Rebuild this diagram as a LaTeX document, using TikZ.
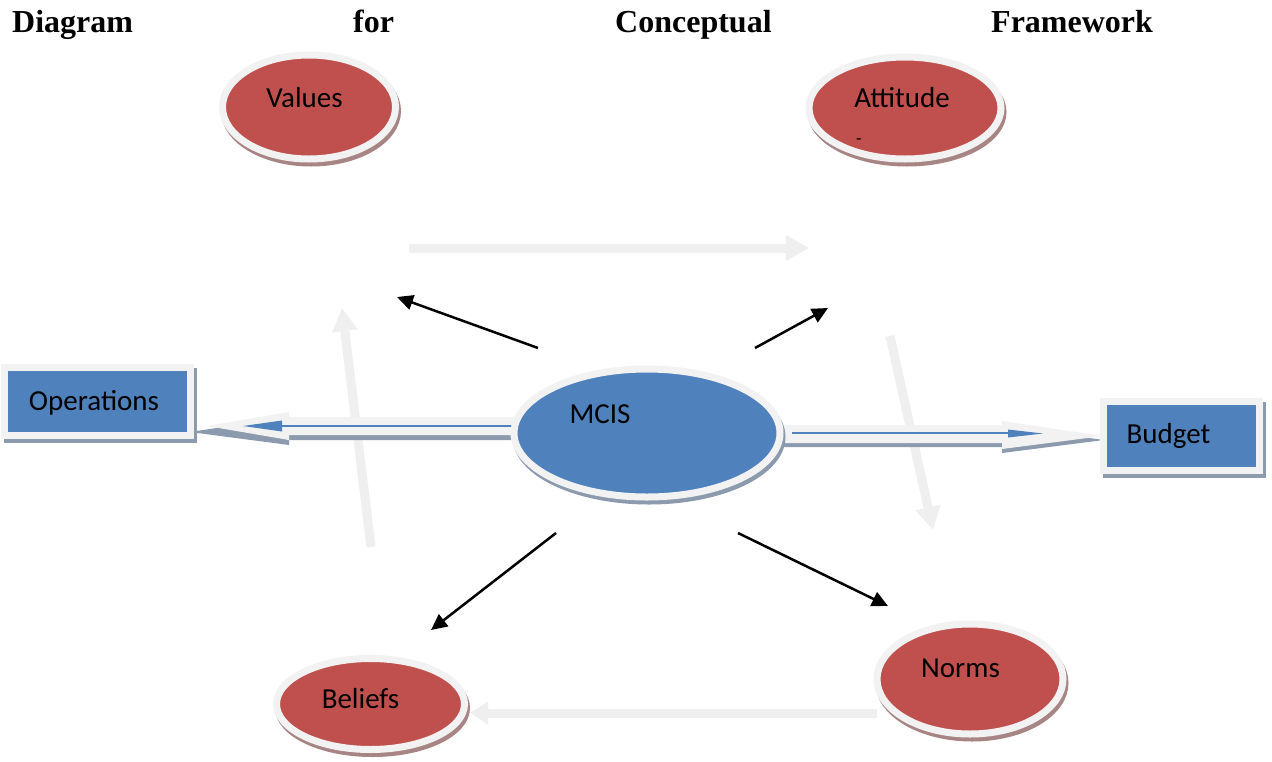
\documentclass[tikz,border=0pt]{standalone}
\usepackage{fontspec}
\setmainfont{Liberation Serif}
\newfontfamily\calfont{Carlito}
\usetikzlibrary{shapes.geometric,arrows.meta}
\definecolor{redfill}{HTML}{C0504D}
\definecolor{bluefill}{HTML}{4F81BD}
\definecolor{ringcol}{HTML}{F2F2F2}
\definecolor{redshadow}{HTML}{A88585}
\definecolor{blueshadow}{HTML}{8C9AAE}
\definecolor{faintcol}{HTML}{EFEFEF}
\tikzset{
  redell/.style={ellipse, inner sep=0pt, fill=redfill, draw=ringcol, line width=7pt,
    preaction={draw=redshadow, fill=redshadow, line width=7pt, transform canvas={xshift=2pt,yshift=-4pt}}},
  blueell/.style={ellipse, inner sep=0pt, fill=bluefill, draw=ringcol, line width=7pt,
    preaction={draw=blueshadow, fill=blueshadow, line width=7pt, transform canvas={xshift=2pt,yshift=-4pt}}},
  bluebox/.style={rectangle, inner sep=0pt, fill=bluefill, draw=ringcol, line width=7pt,
    preaction={draw=blueshadow, fill=blueshadow, line width=7pt, transform canvas={xshift=3pt,yshift=-4pt}}},
  lbl/.style={anchor=base, inner sep=0pt, font=\calfont\fontsize{29}{35}\selectfont, text=black},
  ttl/.style={anchor=base west, inner sep=0pt, font=\bfseries\fontsize{32}{38}\selectfont},
  faintarrow/.style={draw=faintcol, line width=9pt, -{Triangle[length=23pt,width=24pt]}},
  blackarrow/.style={draw=black, line width=2.5pt, -{Triangle[length=16pt,width=15pt]}},
  bluethin/.style={draw=bluefill, line width=1.5pt},
}
\begin{document}
\begin{tikzpicture}[x=1pt,y=-1pt]
\useasboundingbox[fill=white] (0,0) rectangle (1272,761);

% title
\node[ttl] (t1) at (12,32) {Diagram};
\node[ttl] (t2) at (353,32) {for};
\node[ttl] (t3) at (615,32) {Conceptual};
\node[ttl] (t4) at (991,32) {Framework};

% faint cycle arrows
\coordinate (fa1s) at (409,248); \coordinate (fa1e) at (809,248);
\coordinate (fa2s) at (371,547); \coordinate (fa2e) at (342,308);
\coordinate (fa3s) at (890,336); \coordinate (fa3e) at (933,530);
\coordinate (fa4s) at (877,713); \coordinate (fa4e) at (470,713);
\draw[faintarrow] (fa1s) -- (fa1e);
\draw[faintarrow] (fa2s) -- (fa2e);
\draw[faintarrow] (fa3s) -- (fa3e);
\draw[faintarrow, -{Triangle[length=18pt,width=22pt]}] (fa4s) -- (fa4e);

% block arrow MCIS -> Operations
\coordinate (opsTail) at (522,426); \coordinate (opsTip) at (207,426);
\fill[blueshadow] (522,422) -- (289,422) -- (289,417) -- (190,432) -- (289,445) -- (289,440) -- (522,440) -- cycle;
\fill[ringcol] (opsTail |- 0,417) -- (289,417) -- (289,412) -- (opsTip) -- (289,440) -- (289,435) -- (opsTail |- 0,435) -- cycle;
\coordinate (opsBlueTail) at (518,426); \coordinate (opsBlueBase) at (282,426); \coordinate (opsBlueTip) at (243,426);
\draw[bluethin] (opsBlueTail) -- (opsBlueBase);
\fill[bluefill] (282,420.5) -- (opsBlueTip) -- (282,431.5) -- cycle;

% block arrow MCIS -> Budget
\coordinate (budTail) at (780,434); \coordinate (budTip) at (1103,436);
\fill[blueshadow] (780,430) -- (1002,430) -- (1002,426) -- (1104,440) -- (1002,453) -- (1002,447) -- (780,447) -- cycle;
\fill[ringcol] (budTail |- 0,425) -- (1002,425) -- (1002,421) -- (budTip) -- (1002,449) -- (1002,443) -- (budTail |- 0,443) -- cycle;
\coordinate (budBlueTail) at (792,433); \coordinate (budBlueBase) at (1008,433); \coordinate (budBlueTip) at (1043,433.5);
\draw[bluethin] (budBlueTail) -- (budBlueBase);
\fill[bluefill] (1008,429.5) -- (budBlueTip) -- (1008,437.5) -- cycle;

% boxes
\node[bluebox, minimum width=186pt, minimum height=68pt] (ops) at (97.5,401.5) {};
\node[bluebox, minimum width=156pt, minimum height=69pt] (budget) at (1181.5,436) {};
\node[lbl] (opsT) at (94,410) {Operations};
\node[lbl] (budT) at (1168.5,443) {Budget};

% ellipses
\node[redell, minimum width=173pt, minimum height=104pt] (values) at (309,107) {};
\node[redell, minimum width=192pt, minimum height=102pt] (attitude) at (905,108) {};
\node[blueell, minimum width=266pt, minimum height=128pt] (mcis) at (647,433) {};
\node[redell, minimum width=186pt, minimum height=110pt] (norms) at (970,679) {};
\node[redell, minimum width=188pt, minimum height=91pt] (beliefs) at (370.5,704) {};

\node[lbl] (valuesT) at (304.5,107) {Values};
\node[lbl] (attitudeT) at (902,107) {Attitude};
\node[lbl, anchor=base west, font=\calfont\fontsize{18}{20}\selectfont] (attDash) at (856,144) {-};
\node[lbl] (mcisT) at (600,423) {MCIS};
\node[lbl] (normsT) at (960.5,677) {Norms};
\node[lbl] (beliefsT) at (360.5,708) {Beliefs};

% black arrows
\coordinate (b1s) at (538,348); \coordinate (b1e) at (397,297);
\coordinate (b2s) at (755,348); \coordinate (b2e) at (828,308);
\coordinate (b3s) at (556,533); \coordinate (b3e) at (431,630);
\coordinate (b4s) at (738,533); \coordinate (b4e) at (888,606);
\draw[blackarrow] (b1s) -- (b1e);
\draw[blackarrow] (b2s) -- (b2e);
\draw[blackarrow] (b3s) -- (b3e);
\draw[blackarrow] (b4s) -- (b4e);
\end{tikzpicture}
\end{document}
